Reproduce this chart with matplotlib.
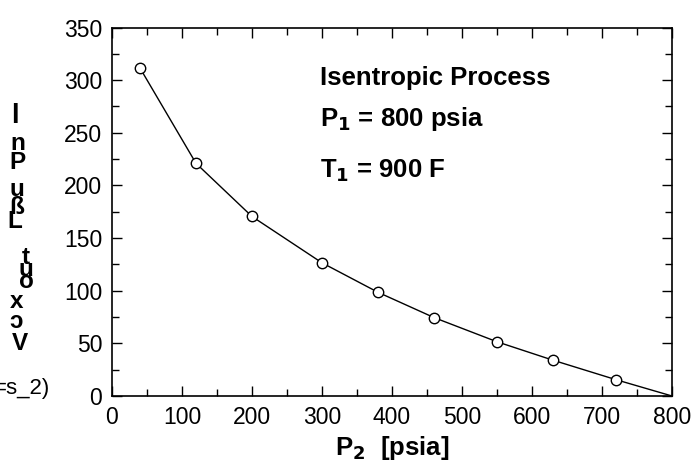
import matplotlib
matplotlib.use("Agg")
import matplotlib.pyplot as plt
from matplotlib.ticker import MultipleLocator

plt.rcParams["font.family"] = ["Liberation Sans", "DejaVu Sans"]

# data
p2_pts = [40, 120, 200, 300, 380, 460, 550, 630, 720]
w_pts = [311.5, 221, 170.5, 126.5, 98.5, 74.5, 51.5, 34, 15.5]
p2_line = p2_pts + [800]
w_line = w_pts + [0]

# scrambled vertical y-label, as in the reference (char, x_px, y_px, size)
ylab_chars = [("l", 15, 116, 20), ("n", 18, 143, 17.5), ("P", 17, 162, 17.5),
              ("u", 17, 189, 17.5), ("ß", 17, 207, 17.5), ("L", 15, 222, 17.5),
              ("t", 26, 257, 17.5), ("u", 26, 270, 17.5), ("o", 26, 281, 17.5),
              ("x", 17, 301, 17.5), ("ɔ", 16, 322, 17.5), ("V", 20, 343, 17.5)]

W, H = 694, 469
fig = plt.figure(figsize=(W / 100, H / 100), dpi=100)
ax = fig.add_axes([112 / W, 1 - 396 / H, 560 / W, (396 - 27.5) / H])

ax.plot(p2_line, w_line, color="k", lw=1.0, zorder=2)
ax.plot(p2_pts, w_pts, ls="none", marker="o", ms=7.5, mfc="white",
        mec="k", mew=1.0, zorder=3)

ax.set_xlim(0, 800)
ax.set_ylim(0, 350)
ax.xaxis.set_major_locator(MultipleLocator(100))
ax.xaxis.set_minor_locator(MultipleLocator(50))
ax.yaxis.set_major_locator(MultipleLocator(50))
ax.yaxis.set_minor_locator(MultipleLocator(25))
ax.tick_params(which="both", direction="in", top=True, right=True,
               labelsize=16.5, width=1.0, pad=7)
ax.tick_params(which="major", length=7.5)
ax.tick_params(which="minor", length=5)
for sp in ax.spines.values():
    sp.set_linewidth(1.2)

ax.set_xlabel("P$_\\mathbf{2}$  [psia]", fontsize=18.5, fontweight="bold",
              labelpad=4)

ax.text(297, 295, "Isentropic Process", fontsize=18.5, fontweight="bold",
        va="baseline", ha="left")
ax.text(297, 256.5, "P$_\\mathbf{1}$ = 800 psia", fontsize=18.5,
        fontweight="bold", va="baseline", ha="left")
ax.text(297, 208, "T$_\\mathbf{1}$ = 900 F", fontsize=18.5,
        fontweight="bold", va="baseline", ha="left")

for ch, xp, yp, fs in ylab_chars:
    fig.text(xp / W, 1 - yp / H, ch, fontsize=fs, fontweight="bold",
             ha="center", va="center")
fig.text(50 / W, 1 - 388 / H, "=s_2)", fontsize=16, ha="right",
         va="center")

fig.savefig("out.png", dpi=100)
